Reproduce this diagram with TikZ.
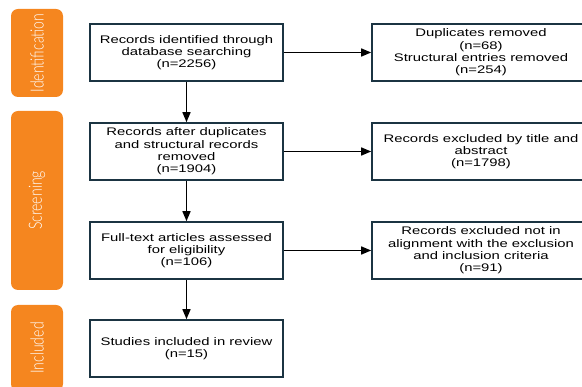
\documentclass[tikz,border=0pt]{standalone}
\usepackage{fontspec}
\usepackage{graphicx}
\setmainfont{Liberation Sans}
\newfontfamily\boxfont[FakeStretch=1.35]{Liberation Sans}
\newfontfamily\stagefont{Lato Light}
\usetikzlibrary{arrows.meta, positioning}
\definecolor{cStage}{RGB}{245,134,31}
\definecolor{cFrame}{RGB}{27,52,66}
\tikzset{
	recbox/.style={rectangle, draw=cFrame, line width=1.6pt, minimum width=193pt, minimum height=57pt, inner sep=0pt, align=center, font=\boxfont\fontsize{11}{12.3}\selectfont},
	exclbox/.style={recbox, minimum width=218pt},
	stagebar/.style={rectangle, rounded corners=7pt, fill=cStage, text=white, minimum height=52pt, rotate=90, inner sep=0pt, font=\stagefont\fontsize{14}{15}\selectfont},
	flowarrow/.style={-{Triangle[length=10pt, width=8pt]}, line width=1.5pt},
}
\begin{document}
\begin{tikzpicture}[x=1pt, y=-1pt]
	\useasboundingbox (0,0) rectangle (582,387);
	\clip (0,0) rectangle (582,387);
	% stage bars
	\node[stagebar, minimum width=88pt]  (ident) at (37,53)    {\scalebox{1}[1.3]{Identification}};
	\node[stagebar, minimum width=179pt] (scr)   at (37,200.5) {\scalebox{1}[1.3]{Screening}};
	\node[stagebar, minimum width=86pt]  (inc)   at (37,348)   {\scalebox{1}[1.3]{Included}};
	% main column
	\node[recbox] (found) at (186.5,52.5)  {Records identified through\\database searching\\(n=2256)};
	\node[recbox] (dedup) at (186.5,151.5) {Records after duplicates\\and structural records\\removed\\(n=1904)};
	\node[recbox] (full)  at (186.5,250.5) {Full-text articles assessed\\for eligibility\\(n=106)};
	\node[recbox] (incl)  at (186.5,348.5) {Studies included in review\\(n=15)};
	% excluded column
	\node[exclbox] (dup)  at (481,52.5)  {Duplicates removed\\(n=68)\\Structural entries removed\\(n=254)};
	\node[exclbox] (tiab) at (481,151.5) {Records excluded by title and\\abstract\\(n=1798)};
	\node[exclbox] (crit) at (481,250.5) {Records excluded not in\\alignment with the exclusion\\and inclusion criteria\\(n=91)};
	% arrows
	\draw[flowarrow] (found) -- (dedup);
	\draw[flowarrow] (dedup) -- (full);
	\draw[flowarrow] (full) -- (incl);
	\draw[flowarrow] (found) -- (dup);
	\draw[flowarrow] (dedup) -- (tiab);
	\draw[flowarrow] (full) -- (crit);
\end{tikzpicture}
\end{document}
